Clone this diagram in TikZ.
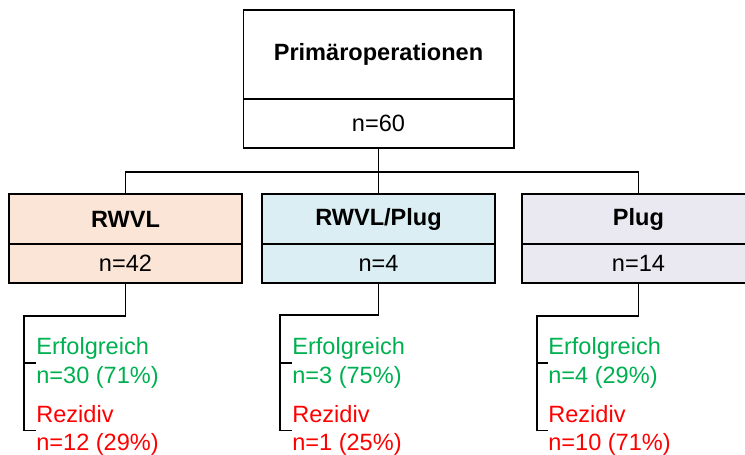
\documentclass[tikz,border=0pt]{standalone}
\usepackage{fontspec}
\setmainfont{Liberation Sans}
\usetikzlibrary{positioning}
\definecolor{rwvlfill}{HTML}{FBE5D6}
\definecolor{mixfill}{HTML}{DAEEF3}
\definecolor{plugfill}{HTML}{EAE8F0}
\definecolor{okgreen}{HTML}{00B050}
\definecolor{rezred}{HTML}{FF0000}
\tikzset{
  kopf/.style={draw, line width=0.6pt, inner sep=0pt, outer sep=0pt,
    font=\fontsize{13.4}{16}\selectfont\bfseries},
  zahl/.style={draw, line width=0.6pt, inner sep=0pt, outer sep=0pt,
    font=\fontsize{13.4}{16}\selectfont},
  ergebnis/.style={anchor=west, align=left, inner sep=0pt,
    font=\fontsize{13.4}{16.4}\selectfont},
  ast/.style={line width=1.1pt},
}
\begin{document}
\begin{tikzpicture}[x=0.02cm, y=-0.02cm]
  \useasboundingbox (0,0) rectangle (745,455);
  % Oberste Box
  \node[kopf, minimum width=5.42cm, minimum height=1.78cm] (prim) at (378.5,54.5) {Primäroperationen};
  \node[zahl, minimum width=5.42cm, minimum height=0.98cm, below=0pt of prim] (prim-n) {n=60};
  % Gruppen
  \node[kopf, fill=rwvlfill, minimum width=4.66cm, minimum height=1cm] (rwvl) at (125.5,219) {RWVL};
  \node[zahl, fill=rwvlfill, minimum width=4.66cm, minimum height=0.78cm, below=0pt of rwvl] (rwvl-n) {n=42};
  \node[kopf, fill=mixfill, minimum width=4.66cm, minimum height=1cm] (mix) at (378.5,219) {RWVL/Plug};
  \node[zahl, fill=mixfill, minimum width=4.66cm, minimum height=0.78cm, below=0pt of mix] (mix-n) {n=4};
  \node[kopf, fill=plugfill, minimum width=4.66cm, minimum height=1cm] (plug) at (638.5,219) {Plug};
  \node[zahl, fill=plugfill, minimum width=4.66cm, minimum height=0.78cm, below=0pt of plug] (plug-n) {n=14};
  % Verzweigung
  \coordinate (hub) at (378.5,172);
  \draw[ast] (prim-n.south) -- (hub);
  \draw[ast] (rwvl.north) |- (hub) -| (plug.north);
  \draw[ast] (hub) -- (mix.north);
  % Ergebnisse
  \node[ergebnis, text=okgreen] (ok1) at (36,363) {Erfolgreich\\n=30 (71\%)};
  \node[ergebnis, text=rezred] (rez1) at (36,430.5) {Rezidiv\\n=12 (29\%)};
  \node[ergebnis, text=okgreen] (ok2) at (292,363) {Erfolgreich\\n=3 (75\%)};
  \node[ergebnis, text=rezred] (rez2) at (292,430.5) {Rezidiv\\n=1 (25\%)};
  \node[ergebnis, text=okgreen] (ok3) at (548,363) {Erfolgreich\\n=4 (29\%)};
  \node[ergebnis, text=rezred] (rez3) at (548,430.5) {Rezidiv\\n=10 (71\%)};
  % Klammern
  \coordinate (b1) at (24,316);
  \coordinate (b2) at (280,315);
  \coordinate (b3) at (537,316);
  \draw[ast] (rwvl-n.south) |- (b1) |- (rez1.west);
  \draw[ast] (b1 |- ok1.west) -- (ok1.west);
  \draw[ast] (mix-n.south) |- (b2) |- (rez2.west);
  \draw[ast] (b2 |- ok2.west) -- (ok2.west);
  \draw[ast] (plug-n.south) |- (b3) |- (rez3.west);
  \draw[ast] (b3 |- ok3.west) -- (ok3.west);
\end{tikzpicture}
\end{document}
